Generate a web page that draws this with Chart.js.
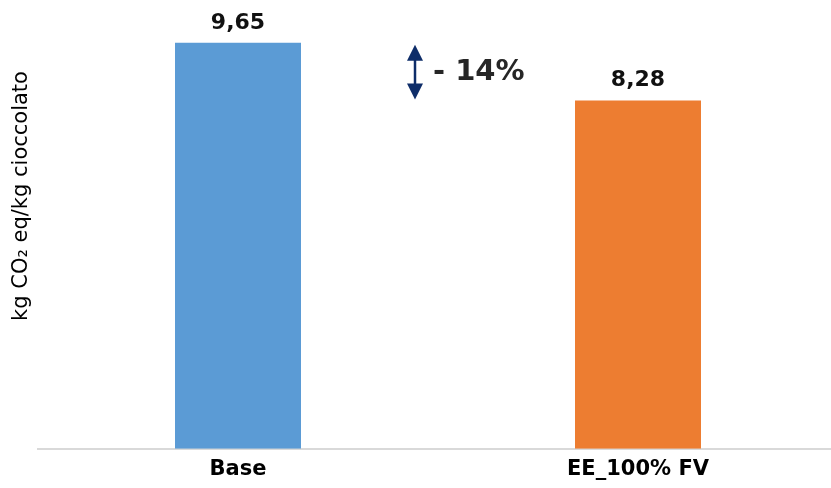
<!DOCTYPE html>
<html>
<head>
<meta charset="utf-8">
<script src="https://cdn.jsdelivr.net/npm/chart.js@4/dist/chart.umd.min.js"></script>
<style>
html,body{margin:0;padding:0;background:#fff;overflow:hidden;}
#wrap{width:831px;height:488px;overflow:hidden;background:#fff;}
</style>
</head>
<body>
<div id="wrap"><canvas id="c" width="840" height="482"></canvas></div>
<script>
const categories = ["Base", "EE_100% FV"];
const values = [9.65, 8.28];
const barColors = ["#5B9BD5", "#ED7D31"];
const yTitle = "kg CO\u2082 eq/kg cioccolato";
const changeLabel = "- 14%";

const fmt = v => v.toFixed(2).replace('.', ',');

const valueLabels = {
  id: 'valueLabels',
  afterDatasetsDraw(chart) {
    const ctx = chart.ctx;
    const meta = chart.getDatasetMeta(0);
    ctx.save();
    ctx.font = 'bold 22px "DejaVu Sans"';
    ctx.fillStyle = '#111111';
    ctx.textAlign = 'center';
    ctx.textBaseline = 'alphabetic';
    meta.data.forEach((bar, i) => {
      ctx.fillText(fmt(values[i]), bar.x, bar.y - 14);
    });
    ctx.restore();
  }
};

const yTitlePlugin = {
  id: 'yTitlePlugin',
  afterDraw(chart) {
    const ctx = chart.ctx;
    ctx.save();
    ctx.translate(22, 196);
    ctx.rotate(-Math.PI / 2);
    ctx.font = '21px "DejaVu Sans"';
    ctx.fillStyle = '#000000';
    ctx.textAlign = 'center';
    ctx.textBaseline = 'middle';
    ctx.fillText(yTitle, 0, 0);
    ctx.restore();
  }
};

const changeArrow = {
  id: 'changeArrow',
  afterDraw(chart) {
    const ctx = chart.ctx;
    const xs = chart.scales.x, ys = chart.scales.y;
    const x = xs.getPixelForValue(0.4425);
    const yTop = ys.getPixelForValue(values[0]) + 2;
    const yBot = ys.getPixelForValue(values[1]) - 1;
    const col = '#0E2D69';
    ctx.save();
    ctx.strokeStyle = col;
    ctx.fillStyle = col;
    ctx.lineWidth = 2.5;
    ctx.beginPath();
    ctx.moveTo(x, yTop + 12);
    ctx.lineTo(x, yBot - 12);
    ctx.stroke();
    const hw = 8, hh = 16;
    ctx.beginPath();
    ctx.moveTo(x, yTop);
    ctx.lineTo(x - hw, yTop + hh);
    ctx.lineTo(x + hw, yTop + hh);
    ctx.closePath();
    ctx.fill();
    ctx.beginPath();
    ctx.moveTo(x, yBot);
    ctx.lineTo(x - hw, yBot - hh);
    ctx.lineTo(x + hw, yBot - hh);
    ctx.closePath();
    ctx.fill();
    ctx.font = 'bold 29px "DejaVu Sans"';
    ctx.fillStyle = '#262626';
    ctx.textAlign = 'left';
    ctx.textBaseline = 'middle';
    ctx.fillText(changeLabel, x + 18, (yTop + yBot) / 2);
    ctx.restore();
  }
};

new Chart(document.getElementById('c'), {
  type: 'bar',
  data: {
    labels: categories,
    datasets: [{
      data: values,
      backgroundColor: barColors,
      borderWidth: 0,
      barPercentage: 0.63,
      categoryPercentage: 0.5
    }]
  },
  options: {
    responsive: false,
    animation: false,
    events: [],
    layout: { padding: { left: 38, right: 2, top: 7, bottom: 0 } },
    plugins: { legend: { display: false }, tooltip: { enabled: false } },
    scales: {
      x: {
        grid: { display: false },
        border: { display: true, color: '#D9D9D9', width: 2 },
        ticks: {
          color: '#000000',
          font: { family: '"DejaVu Sans"', size: 21, weight: 'bold' },
          padding: 0
        }
      },
      y: {
        display: false,
        min: 0,
        max: 10.5
      }
    }
  },
  plugins: [valueLabels, yTitlePlugin, changeArrow]
});
</script>
</body>
</html>
